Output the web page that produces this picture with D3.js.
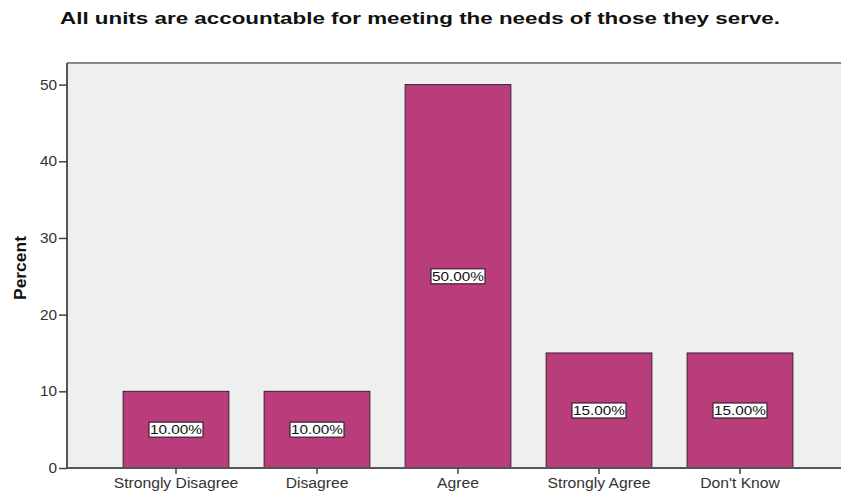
<!DOCTYPE html>
<html>
<head>
<meta charset="utf-8">
<script src="https://cdn.jsdelivr.net/npm/d3@7"></script>
<style>
  body { margin: 0; background: #fff; }
  text { font-family: "Liberation Sans", Arial, sans-serif; }
</style>
</head>
<body>
<svg width="841" height="493"></svg>
<script>
var categories = ["Strongly Disagree", "Disagree", "Agree", "Strongly Agree", "Don't Know"];
var percents = [10, 10, 50, 15, 15];
var yTicks = [0, 10, 20, 30, 40, 50];

var svg = d3.select("svg");

var plot = { left: 67, top: 63, right: 845, bottom: 468 };

var y = d3.scaleLinear()
    .domain([0, 50])
    .range([468, 84.6]);

var x = d3.scaleBand()
    .domain(categories)
    .range([105.5, 810.5])
    .paddingInner(0.25)
    .paddingOuter(0.125);

// the picture is a bit stretched sideways, so widen text to match
function widen(sel, k) {
  sel.each(function() {
    var w = this.getComputedTextLength();
    d3.select(this).attr("textLength", w * k).attr("lengthAdjust", "spacingAndGlyphs");
  });
}

// title
svg.append("text")
    .attr("x", 420)
    .attr("y", 24)
    .attr("text-anchor", "middle")
    .style("font-size", "17px")
    .style("font-weight", "bold")
    .style("fill", "#111")
    .text("All units are accountable for meeting the needs of those they serve.")
    .attr("textLength", 720)
    .attr("lengthAdjust", "spacingAndGlyphs");

// plot background
svg.append("rect")
    .attr("x", plot.left)
    .attr("y", plot.top)
    .attr("width", plot.right - plot.left)
    .attr("height", plot.bottom - plot.top)
    .attr("fill", "#efefef");

svg.append("line")
    .attr("x1", plot.left).attr("x2", plot.right)
    .attr("y1", plot.top).attr("y2", plot.top)
    .attr("stroke", "#8a8a8a").attr("stroke-width", 2);

// bars
var bar = svg.selectAll(".bar")
    .data(percents)
    .enter().append("g")
      .attr("class", "bar");

bar.append("rect")
    .attr("x", function(d, i) { return x(categories[i]); })
    .attr("y", function(d) { return y(d); })
    .attr("width", x.bandwidth())
    .attr("height", function(d) { return y(0) - y(d); })
    .attr("fill", "#b93c7b")
    .attr("stroke", "#3a2230")
    .attr("stroke-width", 1);

var lab = bar.append("g")
    .attr("transform", function(d, i) {
      return "translate(" + (x(categories[i]) + x.bandwidth() / 2) + "," + ((y(0) + y(d)) / 2) + ")";
    });

lab.append("rect")
    .attr("x", -27)
    .attr("y", -7.5)
    .attr("width", 54)
    .attr("height", 15)
    .attr("fill", "#fff")
    .attr("stroke", "#3a2230")
    .attr("stroke-width", 1.2);

lab.append("text")
    .attr("text-anchor", "middle")
    .attr("dy", "0.37em")
    .style("font-size", "13px")
    .style("fill", "#111")
    .text(function(d) { return d.toFixed(2) + "%"; })
    .attr("textLength", 52)
    .attr("lengthAdjust", "spacingAndGlyphs");

// y axis
var yAxis = svg.append("g")
    .attr("transform", "translate(" + plot.left + ",0)")
    .call(d3.axisLeft(y).tickValues(yTicks).tickSize(8).tickPadding(2));

yAxis.select(".domain")
    .attr("d", "M0," + plot.top + "V" + plot.bottom)
    .attr("stroke", "#555").attr("stroke-width", 2);
yAxis.selectAll(".tick line").attr("stroke", "#444").attr("stroke-width", 1.5);
yAxis.selectAll(".tick text")
    .style("font-size", "14px")
    .style("fill", "#333")
    .style("font-family", "'Liberation Sans', Arial, sans-serif")
    .call(widen, 1.1);

// x axis
var xAxis = svg.append("g")
    .attr("transform", "translate(0," + plot.bottom + ")")
    .call(d3.axisBottom(x).tickSize(6).tickPadding(4));

xAxis.select(".domain")
    .attr("d", "M" + plot.left + ",0H" + plot.right)
    .attr("stroke", "#555").attr("stroke-width", 2);
xAxis.selectAll(".tick line").attr("stroke", "#444").attr("stroke-width", 1.5);
xAxis.selectAll(".tick text")
    .style("font-size", "14px")
    .style("fill", "#333")
    .style("font-family", "'Liberation Sans', Arial, sans-serif")
    .call(widen, 1.12);

// y label
svg.append("text")
    .attr("transform", "translate(26,268) rotate(-90)")
    .attr("text-anchor", "middle")
    .style("font-size", "16px")
    .style("font-weight", "bold")
    .style("fill", "#111")
    .text("Percent")
    .attr("textLength", 64)
    .attr("lengthAdjust", "spacingAndGlyphs");
</script>
</body>
</html>
